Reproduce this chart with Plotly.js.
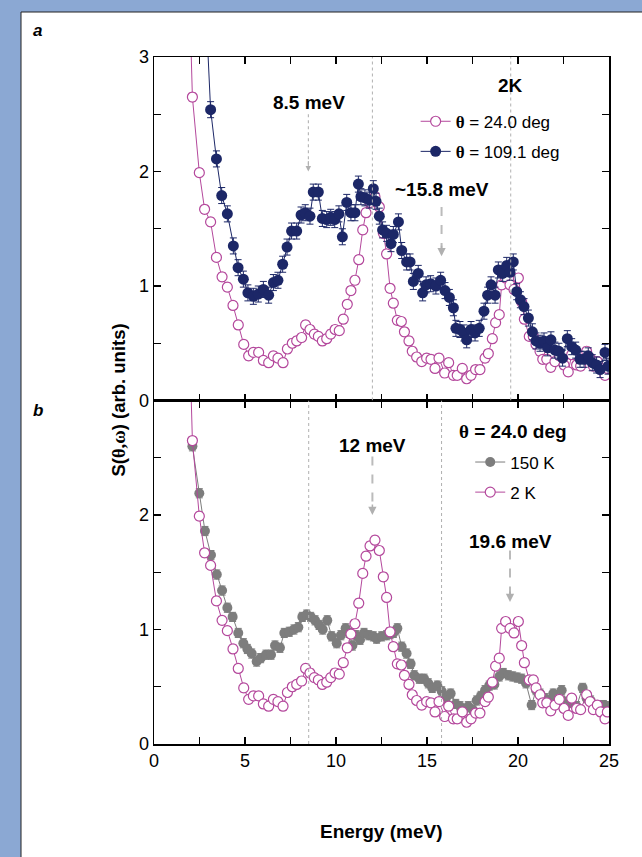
<!DOCTYPE html>
<html>
<head>
<meta charset="utf-8">
<script src="https://cdn.plot.ly/plotly-3.0.1.min.js"></script>
<style>html,body{margin:0;padding:0;background:#8ba8d3;}#plot{width:642px;height:857px;}</style>
</head>
<body>
<div id="plot"></div>
<script>
// ---- data: 2 K, theta = 24.0 deg (open magenta) ----
var e24 = [1.87, 2.11, 2.49, 2.78, 3.11, 3.43, 3.74, 4.03, 4.34, 4.63, 4.93, 5.20, 5.46, 5.75, 6.01, 6.30, 6.56, 6.81, 7.09, 7.33, 7.60, 7.84, 8.11, 8.33, 8.57, 8.81, 9.03, 9.25, 9.49, 9.71, 9.95, 10.18, 10.40, 10.62, 10.82, 11.04, 11.25, 11.47, 11.65, 11.87, 12.14, 12.38, 12.60, 12.78, 12.97, 13.15, 13.37, 13.59, 13.76, 14.01, 14.19, 14.43, 14.71, 14.98, 15.22, 15.44, 15.66, 15.97, 16.19, 16.45, 16.66, 16.94, 17.18, 17.42, 17.67, 17.91, 18.19, 18.37, 18.59, 18.77, 18.97, 19.10, 19.32, 19.56, 19.78, 20.02, 20.20, 20.35, 20.62, 20.84, 20.99, 21.21, 21.36, 21.58, 21.80, 22.03, 22.27, 22.53, 22.76, 22.95, 23.22, 23.44, 23.77, 23.96, 24.14, 24.36, 24.54, 24.78, 24.91];
var s24 = [4.0, 2.65, 1.99, 1.67, 1.56, 1.25, 1.08, 0.99, 0.83, 0.66, 0.49, 0.39, 0.42, 0.42, 0.35, 0.33, 0.39, 0.37, 0.33, 0.45, 0.50, 0.52, 0.55, 0.66, 0.62, 0.58, 0.56, 0.52, 0.54, 0.58, 0.62, 0.61, 0.71, 0.84, 0.96, 1.05, 1.23, 1.49, 1.64, 1.73, 1.78, 1.69, 1.46, 1.28, 0.98, 0.85, 0.70, 0.69, 0.60, 0.52, 0.43, 0.38, 0.34, 0.37, 0.36, 0.28, 0.37, 0.24, 0.33, 0.22, 0.22, 0.28, 0.19, 0.22, 0.27, 0.27, 0.37, 0.41, 0.54, 0.68, 0.75, 1.01, 1.07, 1.01, 0.97, 1.07, 0.86, 0.71, 0.56, 0.56, 0.49, 0.43, 0.36, 0.36, 0.29, 0.34, 0.39, 0.31, 0.25, 0.40, 0.31, 0.30, 0.43, 0.37, 0.30, 0.34, 0.28, 0.22, 0.28];

// ---- data: 2 K, theta = 109.1 deg (filled navy) ----
var e109 = [2.80, 3.11, 3.43, 3.72, 4.03, 4.36, 4.62, 4.91, 5.16, 5.46, 5.73, 6.01, 6.30, 6.56, 6.81, 7.07, 7.31, 7.56, 7.84, 8.08, 8.31, 8.57, 8.75, 9.03, 9.25, 9.49, 9.71, 9.93, 10.16, 10.35, 10.59, 10.82, 11.04, 11.23, 11.37, 11.59, 11.83, 12.05, 12.20, 12.38, 12.56, 12.78, 13.02, 13.15, 13.43, 13.61, 13.88, 14.07, 14.25, 14.52, 14.76, 14.95, 15.20, 15.49, 15.75, 15.99, 16.23, 16.45, 16.59, 16.81, 17.03, 17.18, 17.42, 17.64, 17.87, 18.13, 18.33, 18.52, 18.74, 18.92, 19.16, 19.38, 19.56, 19.74, 19.93, 20.13, 20.33, 20.57, 20.79, 20.99, 21.21, 21.43, 21.63, 21.81, 22.03, 22.25, 22.45, 22.71, 22.95, 23.17, 23.41, 23.63, 23.86, 24.08, 24.32, 24.51, 24.78, 24.95];
var s109 = [3.6, 2.54, 2.11, 1.79, 1.63, 1.35, 1.16, 1.06, 0.94, 0.91, 0.93, 0.97, 0.92, 1.03, 1.05, 1.19, 1.34, 1.48, 1.48, 1.62, 1.64, 1.61, 1.82, 1.82, 1.59, 1.58, 1.60, 1.58, 1.63, 1.43, 1.73, 1.64, 1.64, 1.89, 1.78, 1.77, 1.75, 1.85, 1.74, 1.61, 1.49, 1.46, 1.37, 1.45, 1.56, 1.31, 1.21, 1.21, 1.04, 1.11, 0.94, 1.01, 1.02, 1.00, 1.05, 0.96, 0.90, 0.81, 0.63, 0.62, 0.59, 0.53, 0.62, 0.59, 0.63, 0.78, 0.92, 1.01, 0.92, 1.14, 1.11, 1.18, 1.12, 1.21, 0.95, 0.88, 0.82, 0.72, 0.60, 0.52, 0.50, 0.52, 0.46, 0.53, 0.44, 0.43, 0.37, 0.54, 0.47, 0.44, 0.36, 0.36, 0.39, 0.33, 0.31, 0.27, 0.42, 0.30];

// ---- data: 150 K, theta = 24.0 deg (filled grey) ----
var e150 = [2.11, 2.49, 2.80, 3.13, 3.45, 3.74, 4.03, 4.32, 4.63, 4.91, 5.13, 5.37, 5.64, 5.86, 6.15, 6.43, 6.65, 6.92, 7.16, 7.43, 7.69, 7.93, 8.15, 8.39, 8.61, 8.85, 9.07, 9.27, 9.52, 9.76, 10.04, 10.27, 10.53, 10.73, 10.90, 11.10, 11.32, 11.54, 11.80, 12.05, 12.23, 12.51, 12.78, 12.97, 13.15, 13.37, 13.61, 13.88, 14.10, 14.30, 14.58, 14.84, 15.07, 15.29, 15.57, 15.81, 16.04, 16.30, 16.58, 16.81, 17.03, 17.27, 17.51, 17.73, 17.97, 18.19, 18.42, 18.70, 18.97, 19.19, 19.47, 19.71, 19.96, 20.20, 20.44, 20.75, 20.99, 21.21, 21.48, 21.72, 21.94, 22.21, 22.40, 22.67, 22.95, 23.22, 23.55, 23.77, 23.99, 24.23, 24.47, 24.69, 24.91];
var s150 = [2.60, 2.19, 1.86, 1.65, 1.48, 1.34, 1.19, 1.11, 0.97, 0.88, 0.83, 0.79, 0.72, 0.75, 0.78, 0.78, 0.86, 0.84, 0.97, 0.98, 1.00, 1.02, 1.11, 1.13, 1.11, 1.08, 1.04, 1.00, 1.08, 0.94, 0.88, 0.95, 1.01, 0.97, 0.86, 0.95, 0.91, 0.97, 0.95, 0.94, 0.92, 0.94, 0.95, 0.96, 0.97, 1.01, 0.85, 0.79, 0.70, 0.60, 0.57, 0.57, 0.53, 0.49, 0.51, 0.46, 0.40, 0.44, 0.35, 0.33, 0.30, 0.33, 0.30, 0.38, 0.42, 0.47, 0.51, 0.52, 0.59, 0.62, 0.60, 0.59, 0.58, 0.57, 0.53, 0.34, 0.47, 0.44, 0.40, 0.38, 0.44, 0.38, 0.47, 0.37, 0.36, 0.33, 0.49, 0.40, 0.38, 0.34, 0.33, 0.34, 0.33];

// ---- axis ticks ----
var xTicks = [0, 2.5, 5, 7.5, 10, 12.5, 15, 17.5, 20, 22.5, 25];
var xLabels = ['0', '', '5', '', '10', '', '15', '', '20', '', '25'];
var yTicks = [0, 0.5, 1, 1.5, 2, 2.5, 3];
var yLabelsTop = ['0', '', '1', '', '2', '', '3'];
var yLabelsBottom = ['0', '', '1', '', '2', '', ''];

// ---- peak markers ----
var peakTop = [8.5, 15.8];
var peakBottom = [12.0, 19.6];

var MAG = '#b4489c', NAVY = '#1c2767', GREY = '#7d7d7d';
var FONT = 'Liberation Sans, Arial, sans-serif';
var TH = '<span style="font-family:Liberation Serif, DejaVu Serif, serif"><b>θ</b></span>';

function err(v){ return {type:'constant', value:v, width:3.5, thickness:1}; }

var traces = [
  {x:e24, y:s24, xaxis:'x2', yaxis:'y2', mode:'lines+markers', name:TH+' = 24.0 deg',
   legend:'legend', legendgroup:'a1',
   line:{color:MAG, width:1}, marker:{symbol:'circle', size:10, color:'white', line:{color:MAG, width:1.2}},
   error_y:Object.assign(err(0.035), {color:MAG})},
  {x:e109, y:s109, xaxis:'x2', yaxis:'y2', mode:'lines+markers', name:TH+' = 109.1 deg',
   legend:'legend', legendgroup:'a2',
   line:{color:NAVY, width:1}, marker:{symbol:'circle', size:11, color:NAVY},
   error_y:Object.assign(err(0.07), {color:NAVY})},
  {x:e150, y:s150, xaxis:'x', yaxis:'y', mode:'lines+markers', name:'150 K',
   legend:'legend2', legendgroup:'b1',
   line:{color:GREY, width:1}, marker:{symbol:'circle', size:10, color:GREY},
   error_y:Object.assign(err(0.04), {color:GREY})},
  {x:e24, y:s24, xaxis:'x', yaxis:'y', mode:'lines+markers', name:'2 K',
   legend:'legend2', legendgroup:'b2',
   line:{color:MAG, width:1}, marker:{symbol:'circle', size:10, color:'white', line:{color:MAG, width:1.2}},
   error_y:Object.assign(err(0.035), {color:MAG})}
];

function xax(extra){
  return Object.assign({range:[0,25], tickmode:'array', tickvals:xTicks, ticktext:xLabels,
    ticks:'inside', ticklen:7, tickwidth:1.2, tickcolor:'#000', showline:true, linecolor:'#000', linewidth:1.5,
    mirror:'ticks', showgrid:false, zeroline:false, tickfont:{family:FONT, size:18, color:'#000'}}, extra);
}
function yax(extra){
  return Object.assign({range:[0,3], tickmode:'array', tickvals:yTicks,
    ticks:'inside', ticklen:7, tickwidth:1.2, tickcolor:'#000', showline:true, linecolor:'#000', linewidth:1.5,
    mirror:'ticks', showgrid:false, zeroline:false, tickfont:{family:FONT, size:18, color:'#000'}}, extra);
}

var shapes = [
  {type:'rect', xref:'paper', yref:'paper', x0:-0.2923, x1:1.2, y0:-0.3, y1:1.0655,
   fillcolor:'white', line:{color:'#222', width:1}, layer:'below'}
];
peakBottom.forEach(function(p){
  shapes.push({type:'line', xref:'x2', yref:'y2', x0:p, x1:p, y0:0, y1:3, line:{color:'#b0b0b0', width:1, dash:'dot'}});
});
peakTop.forEach(function(p){
  shapes.push({type:'line', xref:'x', yref:'y', x0:p, x1:p, y0:0, y1:3, line:{color:'#b0b0b0', width:1, dash:'dot'}});
});
// arrows (shafts)
shapes.push({type:'line', xref:'x2', yref:'y2', x0:8.48, x1:8.48, y0:2.50, y1:2.06, line:{color:'#aaaaaa', width:1, dash:'dot'}});
shapes.push({type:'line', xref:'x2', yref:'y2', x0:15.8, x1:15.8, y0:1.69, y1:1.33, line:{color:'#bbbbbb', width:2, dash:'dash'}});
shapes.push({type:'line', xref:'x', yref:'y', x0:12.0, x1:12.0, y0:2.51, y1:2.07, line:{color:'#bbbbbb', width:2, dash:'dash'}});
shapes.push({type:'line', xref:'x', yref:'y', x0:19.56, x1:19.56, y0:1.69, y1:1.31, line:{color:'#bbbbbb', width:2, dash:'dash'}});

function head(x, y, xr, yr, w){
  return {xref:xr, yref:yr, x:x, y:y, ax:0, ay:-12, text:'', showarrow:true, arrowhead:2, arrowsize:1.1,
    arrowwidth:w, arrowcolor:'#b0b0b0'};
}
function lbl(x, y, xr, yr, t, size){
  return {xref:xr, yref:yr, x:x, y:y, xanchor:'center', yanchor:'middle', text:'<b>'+t+'</b>', showarrow:false,
    font:{family:FONT, size:size||19, color:'#000'}};
}

var annotations = [
  head(8.48, 2.0, 'x2', 'y2', 1),
  head(15.8, 1.26, 'x2', 'y2', 1.5),
  head(12.0, 2.0, 'x', 'y', 1.5),
  head(19.56, 1.24, 'x', 'y', 1.5),
  lbl(8.5, 2.60, 'x2', 'y2', '8.5 meV'),
  lbl(15.8, 1.84, 'x2', 'y2', '~15.8 meV'),
  lbl(12.0, 2.61, 'x', 'y', '12 meV'),
  lbl(19.6, 1.77, 'x', 'y', '19.6 meV'),
  lbl(19.6, 2.75, 'x2', 'y2', '2K', 19),
  {xref:'x', yref:'y', x:19.7, y:2.73, xanchor:'center', yanchor:'middle', text:'<b>'+TH+' = 24.0 deg</b>', showarrow:false,
   font:{family:FONT, size:19, color:'#000'}},
  {xref:'paper', yref:'paper', x:-0.255, y:1.039, xanchor:'center', yanchor:'middle', text:'<b><i>a</i></b>', showarrow:false,
   font:{family:FONT, size:17, color:'#000'}},
  {xref:'paper', yref:'paper', x:-0.255, y:0.486, xanchor:'center', yanchor:'middle', text:'<b><i>b</i></b>', showarrow:false,
   font:{family:FONT, size:17, color:'#000'}},
  {xref:'paper', yref:'paper', x:-0.079, y:0.5, xanchor:'center', yanchor:'middle',
   text:'<b>S('+'<span style="font-family:Liberation Serif, serif">θ,ω</span>'+') (arb. units)</b>',
   textangle:-90, showarrow:false, font:{family:FONT, size:18.5, color:'#000'}},
  {xref:'paper', yref:'paper', x:0.499, y:-0.128, xanchor:'center', yanchor:'middle', text:'<b>Energy (meV)</b>', showarrow:false,
   font:{family:FONT, size:19, color:'#000'}}
];

var layout = {
  width:642, height:857,
  margin:{l:154, r:33, t:57, b:113},
  paper_bgcolor:'#8ba8d3', plot_bgcolor:'white',
  showlegend:true,
  xaxis:xax({anchor:'y', domain:[0,1]}),
  xaxis2:xax({anchor:'y2', domain:[0,1], matches:'x', showticklabels:false}),
  yaxis:yax({domain:[0,0.5], anchor:'x', ticktext:yLabelsBottom}),
  yaxis2:yax({domain:[0.5,1], anchor:'x2', ticktext:yLabelsTop}),
  legend:{x:0.575, y:0.932, xanchor:'left', yanchor:'top', bgcolor:'rgba(0,0,0,0)', tracegroupgap:5,
    font:{family:FONT, size:17, color:'#000'}},
  legend2:{x:0.695, y:0.436, xanchor:'left', yanchor:'top', bgcolor:'rgba(0,0,0,0)', tracegroupgap:5,
    font:{family:FONT, size:17, color:'#000'}},
  shapes:shapes,
  annotations:annotations
};

Plotly.newPlot('plot', traces, layout, {displayModeBar:false, staticPlot:true});
</script>
</body>
</html>
